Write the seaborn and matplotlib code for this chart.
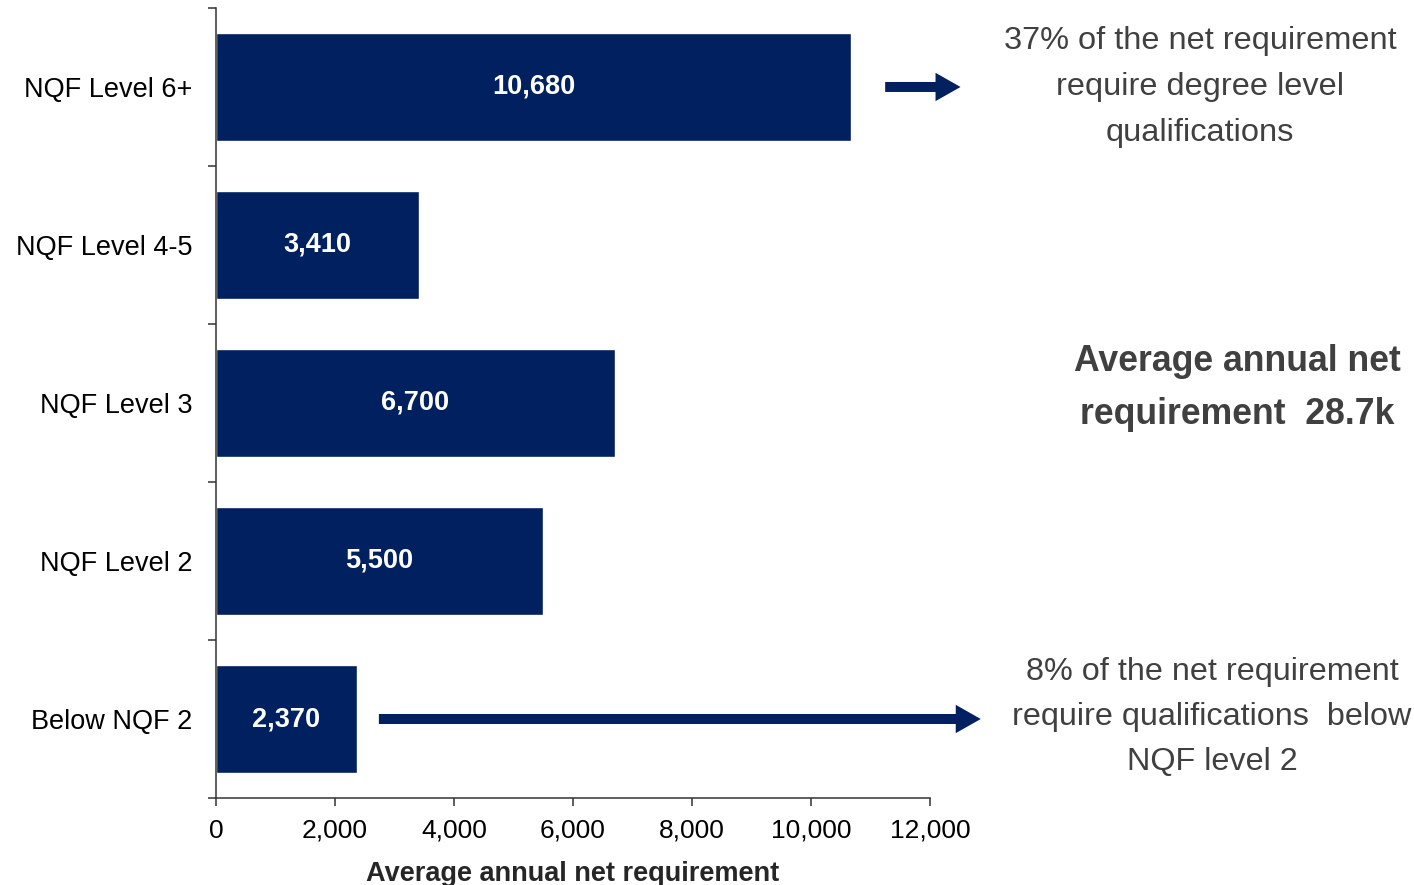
import matplotlib
matplotlib.use("Agg")
import matplotlib.pyplot as plt
import seaborn as sns
import pandas as pd
import numpy as np

# data
levels = ["NQF Level 6+", "NQF Level 4-5", "NQF Level 3", "NQF Level 2", "Below NQF 2"]
net_requirement = [10680, 3410, 6700, 5500, 2370]
x_ticks = [0, 2000, 4000, 6000, 8000, 10000, 12000]

note_top = "37% of the net requirement\nrequire degree level\nqualifications"
note_mid = "Average annual net\nrequirement  28.7k"
note_bottom = "8% of the net requirement\nrequire qualifications  below\nNQF level 2"

navy = "#002060"
grey_text = "#404040"

sns.set_theme(style="white")
plt.rcParams["font.family"] = ["Liberation Sans", "DejaVu Sans"]

df = pd.DataFrame({"level": levels, "value": net_requirement})

fig = plt.figure(figsize=(14.14, 8.85), dpi=100)
ax = fig.add_axes([0.1528, 0.0983, 0.5049, 0.8927])

sns.barplot(data=df, x="value", y="level", orient="h", color=navy,
            saturation=1, width=0.68, ax=ax)

ax.bar_label(ax.containers[0], labels=[f"{v:,}" for v in net_requirement],
             label_type="center", color="white", fontsize=19.5,
             fontweight="bold")

ax.set_xlim(0, 12000)
ax.set_ylim(len(levels) - 0.5, -0.5)
ax.set_xticks(x_ticks)
ax.set_xticklabels([f"{t:,}" for t in x_ticks], fontsize=19)
ax.set_yticks(range(len(levels)))
ax.set_yticklabels(levels, fontsize=19.5)
ax.set_yticks(np.arange(-0.5, len(levels), 1.0), minor=True)

ax.tick_params(axis="y", which="major", length=0, pad=17, colors="black")
ax.tick_params(axis="y", which="minor", left=True, length=5.5, width=1.1,
               color="#333333", direction="out")
ax.tick_params(axis="x", which="major", bottom=True, length=5.8, width=1.1,
               color="#333333", direction="out", pad=9, labelcolor="black")

ax.set_xlabel("Average annual net requirement", fontsize=19.5,
              fontweight="bold", labelpad=13)
ax.set_ylabel("")

for side in ["top", "right"]:
    ax.spines[side].set_visible(False)
for side in ["left", "bottom"]:
    ax.spines[side].set_color("#333333")
    ax.spines[side].set_linewidth(1.1)

arrow_style = "simple,head_length=1.5,head_width=1.7,tail_width=0.6"
ax.annotate("", xy=(12560, 0), xytext=(11200, 0),
            arrowprops=dict(arrowstyle=arrow_style, color=navy, lw=0),
            annotation_clip=False)
ax.annotate("", xy=(12900, 4), xytext=(2690, 4),
            arrowprops=dict(arrowstyle=arrow_style, color=navy, lw=0),
            annotation_clip=False)

fig.text(1200 / 1414, 1 - 87 / 885, note_top, ha="center", va="center",
         fontsize=23.4, color=grey_text, linespacing=1.68)
fig.text(1237 / 1414, 1 - 388 / 885, note_mid, ha="center", va="center",
         fontsize=25.7, color=grey_text, fontweight="bold", linespacing=1.65)
fig.text(1212 / 1414, 1 - 717 / 885, note_bottom, ha="center", va="center",
         fontsize=23.3, color=grey_text, linespacing=1.67)

fig.savefig("out.png", dpi=100)
